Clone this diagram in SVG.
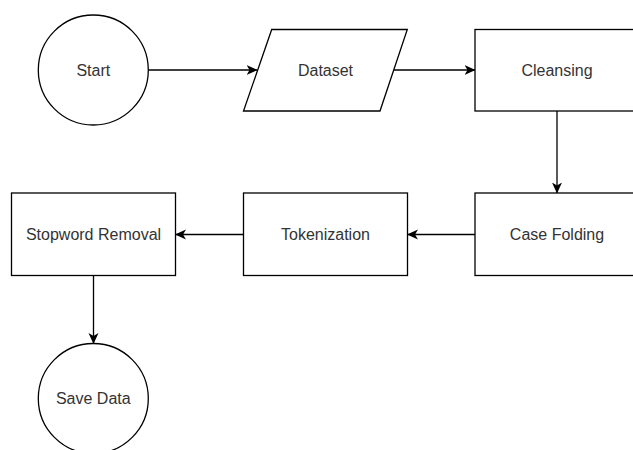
<svg xmlns="http://www.w3.org/2000/svg" width="633" height="450" viewBox="0 0 633 450">
<style>
.s{fill:#fff;stroke:#000;stroke-width:1.3}
.t{font-family:"Liberation Sans",Arial,sans-serif;font-size:16px;fill:#333;text-anchor:middle;dominant-baseline:central}
.c{fill:none;stroke:#000;stroke-width:1.3}
</style>
<defs>
<marker id="a" viewBox="0 0 11 12" refX="10.5" refY="6" markerWidth="11" markerHeight="12" markerUnits="userSpaceOnUse" orient="auto">
<path d="M0,1 L11,6 L0,11 L3,6 Z" fill="#000"/>
</marker>
</defs>
<rect width="633" height="450" fill="#fff"/>
<g id="connectors">
<line class="c" x1="148.3" y1="70" x2="257" y2="70" marker-end="url(#a)"/>
<line class="c" x1="394" y1="70" x2="475" y2="70" marker-end="url(#a)"/>
<line class="c" x1="557" y1="111" x2="557" y2="193" marker-end="url(#a)"/>
<line class="c" x1="475" y1="234.5" x2="407.5" y2="234.5" marker-end="url(#a)"/>
<line class="c" x1="243.5" y1="234.5" x2="175.5" y2="234.5" marker-end="url(#a)"/>
<line class="c" x1="93.5" y1="276" x2="93.5" y2="343.5" marker-end="url(#a)"/>
</g>
<g id="start">
<circle class="s" cx="93.3" cy="70" r="55"/>
<text class="t" x="93.3" y="70">Start</text>
</g>
<g id="dataset">
<polygon class="s" points="271.7,29.5 407.3,29.5 380,111 243.5,111"/>
<text class="t" x="325.5" y="70">Dataset</text>
</g>
<g id="cleansing">
<rect class="s" x="475" y="29.5" width="164" height="81.5"/>
<text class="t" x="557" y="70">Cleansing</text>
</g>
<g id="casefolding">
<rect class="s" x="475" y="193" width="164" height="82.5"/>
<text class="t" x="557" y="234.5">Case Folding</text>
</g>
<g id="tokenization">
<rect class="s" x="243.5" y="193" width="164" height="82.5"/>
<text class="t" x="325.5" y="234.5">Tokenization</text>
</g>
<g id="stopword">
<rect class="s" x="11.5" y="193" width="164" height="82.5"/>
<text class="t" x="93.5" y="234.5">Stopword Removal</text>
</g>
<g id="savedata">
<circle class="s" cx="93.3" cy="398.5" r="55"/>
<text class="t" x="93.3" y="398.5">Save Data</text>
</g>
</svg>
